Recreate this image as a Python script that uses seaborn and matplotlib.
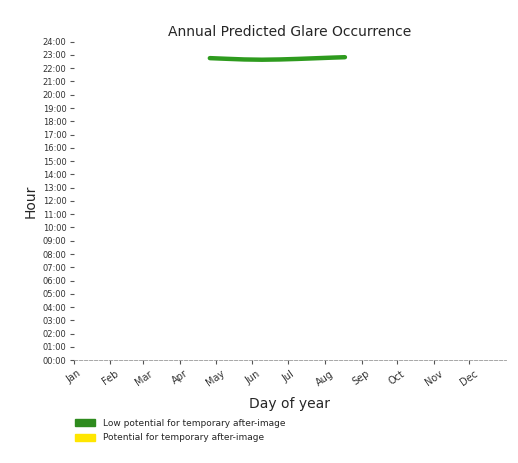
import matplotlib.pyplot as plt
import matplotlib.patches as mpatches
import pandas as pd
import seaborn as sns

# glare occurrence: day of year vs hour of day
glare_days = [116, 130, 145, 160, 175, 190, 205, 220, 230]
glare_hours = [22.76, 22.71, 22.66, 22.64, 22.66, 22.70, 22.75, 22.80, 22.83]

month_names = ['Jan', 'Feb', 'Mar', 'Apr', 'May', 'Jun',
               'Jul', 'Aug', 'Sep', 'Oct', 'Nov', 'Dec']
month_starts = [1, 32, 60, 91, 121, 152, 182, 213, 244, 274, 305, 335]
hour_ticks = list(range(0, 25))

df = pd.DataFrame({'day': glare_days, 'hour': glare_hours})

sns.set_style("white")
fig = plt.figure(figsize=(5.18, 4.63), dpi=100)
ax = fig.add_axes([0.142, 0.222, 0.835, 0.688])

sns.lineplot(data=df, x='day', y='hour', color='#2e9b1e', linewidth=3.2, ax=ax)

ax.set_xlim(1, 366)
ax.set_ylim(0, 24)
ax.set_xticks(month_starts)
ax.set_xticklabels(month_names, rotation=35, fontsize=7, color='#333333')
ax.set_yticks(hour_ticks)
ax.set_yticklabels([f'{h:02d}:00' for h in hour_ticks], fontsize=6, color='#333333')
ax.tick_params(axis='y', left=True, length=3, width=0.8, color='#555555', pad=2)
ax.tick_params(axis='x', bottom=True, length=3, width=0.8, color='#555555', pad=3)

for side in ['top', 'right', 'left']:
    ax.spines[side].set_visible(False)
ax.spines['bottom'].set_color('#999999')
ax.spines['bottom'].set_linewidth(0.6)
ax.spines['bottom'].set_linestyle((0, (4, 2)))

ax.set_title('Annual Predicted Glare Occurrence', fontsize=10, pad=4)
ax.set_xlabel('Day of year', fontsize=10, labelpad=6)
ax.set_ylabel('Hour', fontsize=10)

handles = [mpatches.Patch(color='#2e8b1e', label='Low potential for temporary after-image'),
           mpatches.Patch(color='#ffe600', label='Potential for temporary after-image')]
fig.legend(handles=handles, loc='upper left', bbox_to_anchor=(0.13, 0.113),
           frameon=False, fontsize=6.5, handlelength=2.2, handleheight=0.8,
           labelspacing=0.6)

fig.savefig('out.png', dpi=100)
